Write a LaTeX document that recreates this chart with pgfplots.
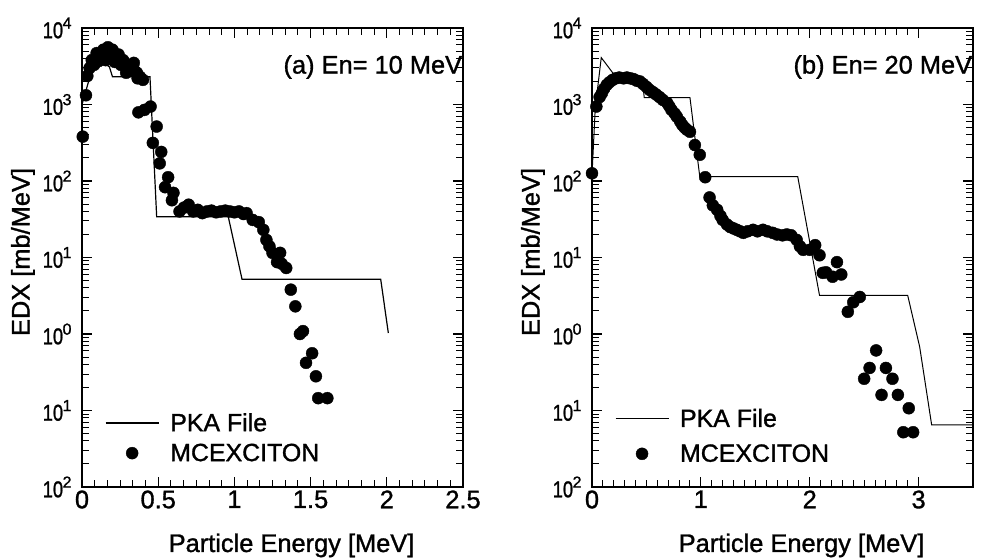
\documentclass[border=0pt]{standalone}
\usepackage{pgfplots}
\pgfplotsset{compat=1.18}
\usepackage{fontspec}
\setmainfont{Liberation Sans}[BoldFont=Liberation Sans, BoldFeatures={FakeBold=1.2}]
\newcommand\tn[1]{\scalebox{0.8}[1]{10}\kern-0.5bp\raisebox{0.42em}{\fontsize{16}{16}\selectfont #1}}
\pgfplotsset{
  mylegimg/.style={legend image code/.code={\draw[mark repeat=2,mark phase=2,##1] plot coordinates {(0bp,0bp)(26.5bp,0bp)(53bp,0bp)};}},
}
\begin{document}
\bfseries
\begin{tikzpicture}
\path[use as bounding box] (0,0) rectangle (983bp,559bp);
% ---------------- panel (a)
\begin{axis}[
  scale only axis, width=381bp, height=459bp, anchor=south west, at={(82bp,72bp)},
  ymode=log, ymin=1e-2, ymax=1e4,
  ytick={1e-2,1e-1,1,10,100,1000,10000},
  yticklabels={\tn{2},\tn{1},\tn{0},\tn{1},\tn{2},\tn{3},\tn{4}},
  axis line style={line width=1.7bp},
  major tick style={line width=1.2bp, black},
  minor tick style={line width=1bp, black},
  major tick length=10bp, minor tick length=7bp,
  tick align=inside, clip=false,
  xticklabel style={font=\fontsize{25.5}{28}\selectfont\bfseries},
  yticklabel style={font=\fontsize{23}{26}\selectfont\bfseries, xshift=-7bp},
  xlabel={Particle Energy [MeV]}, ylabel={EDX [mb/MeV]},
  xlabel style={font=\fontsize{25.5}{28}\selectfont\bfseries, at={(axis description cs:0.55,-0.1416)}, anchor=base},
  ylabel style={font=\fontsize{25.5}{28}\selectfont\bfseries, at={(axis description cs:-0.155,0.512)}, anchor=center},
  mylegimg,
  legend style={at={(axis description cs:0.06,0.107)}, anchor=west, draw=none, fill=none,
    inner sep=0pt, row sep=7bp, column sep=9bp, font=\fontsize{25}{28}\selectfont\bfseries},
  legend cell align=left,
  xmin=0, xmax=2.5, xtick={0,0.5,1,1.5,2,2.5}, xticklabels={0,0.5,1,1.5,2,2.5},
  minor x tick num=5]
\addplot[black, line width=1.2bp, mark=none] coordinates {
(0,1000)(0.04,1900)(0.1,4100)(0.18,3100)(0.2,2300)(0.446,2300)(0.49,34)(0.96,34)(1.05,5.2)(1.96,5.2)(2.01,1.03)};
\addlegendentry{PKA File}
\addplot[black, only marks, mark=*, mark size=6bp, mark options={fill=black}] coordinates {
(0.005,380)(0.026,1320)(0.035,2360)(0.05,3000)(0.064,3800)(0.08,3300)(0.096,4700)(0.11,3700)
(0.12,4300)(0.14,5200)(0.155,3800)(0.17,5600)(0.185,4200)(0.2,5200)(0.215,3600)(0.24,4500)
(0.255,3300)(0.27,3800)(0.29,2600)(0.30,3100)(0.32,3000)(0.34,3500)(0.35,2700)(0.36,2600)
(0.365,2200)(0.38,2300)(0.40,2100)(0.37,790)(0.41,850)(0.45,940)(0.465,315)(0.49,515)
(0.51,170)(0.52,240)(0.545,83)(0.565,112)(0.59,56)(0.60,70)(0.64,40)(0.67,45)(0.70,49)
(0.73,40)(0.76,42)(0.79,38)(0.82,40)(0.85,41)(0.88,39)(0.91,40)(0.94,41)(0.97,40)(1.00,39)
(1.03,40)(1.06,37)(1.08,38)(1.12,31)(1.16,29)(1.19,23)(1.21,17)(1.23,14)(1.25,11.5)
(1.28,8.7)(1.30,11.5)(1.31,8.3)(1.34,7.3)(1.37,3.8)(1.40,2.3)(1.43,1.0)(1.45,1.09)
(1.47,0.42)(1.51,0.56)(1.535,0.28)(1.55,0.145)(1.61,0.145)};
\addlegendentry{MCEXCITON}
\node[anchor=east, font=\fontsize{25.5}{28}\selectfont\bfseries] at (rel axis cs:1.007,0.915) {(a) En= 10 MeV};
\end{axis}
% ---------------- panel (b)
\begin{axis}[
  scale only axis, width=381bp, height=459bp, anchor=south west, at={(592bp,72bp)},
  ymode=log, ymin=1e-2, ymax=1e4,
  ytick={1e-2,1e-1,1,10,100,1000,10000},
  yticklabels={\tn{2},\tn{1},\tn{0},\tn{1},\tn{2},\tn{3},\tn{4}},
  axis line style={line width=1.7bp},
  major tick style={line width=1.2bp, black},
  minor tick style={line width=1bp, black},
  major tick length=10bp, minor tick length=7bp,
  tick align=inside, clip=false,
  xticklabel style={font=\fontsize{25.5}{28}\selectfont\bfseries},
  yticklabel style={font=\fontsize{23}{26}\selectfont\bfseries, xshift=-7bp},
  xlabel={Particle Energy [MeV]}, ylabel={EDX [mb/MeV]},
  xlabel style={font=\fontsize{25.5}{28}\selectfont\bfseries, at={(axis description cs:0.55,-0.1416)}, anchor=base},
  ylabel style={font=\fontsize{25.5}{28}\selectfont\bfseries, at={(axis description cs:-0.155,0.512)}, anchor=center},
  mylegimg,
  legend style={at={(axis description cs:0.06,0.111)}, anchor=west, draw=none, fill=none,
    inner sep=0pt, row sep=12bp, column sep=9bp, font=\fontsize{25}{28}\selectfont\bfseries},
  legend cell align=left,
  xmin=0, xmax=3.5, xtick={0,1,2,3}, xticklabels={0,1,2,3},
  minor x tick num=9]
\addplot[black, line width=1bp, mark=none] coordinates {
(0,120)(0.03,900)(0.085,4100)(0.19,2600)(0.22,2200)(0.46,2200)(0.48,1230)(0.90,1230)(0.99,114)
(1.89,114)(2.09,3.2)(2.90,3.2)(3.01,0.68)(3.12,0.065)(3.5,0.065)};
\addlegendentry{PKA File}
\addplot[black, only marks, mark=*, mark size=6bp, mark options={fill=black}] coordinates {
(0.00,126)(0.04,940)(0.07,1250)(0.09,1400)(0.11,1600)(0.135,1800)(0.16,1950)(0.19,2100)
(0.22,2200)(0.25,2250)(0.29,2200)(0.32,2250)(0.35,2200)(0.38,2150)(0.41,2050)(0.44,2000)
(0.47,1850)(0.50,1700)(0.53,1550)(0.56,1450)(0.59,1350)(0.62,1250)(0.65,1150)(0.69,1050)
(0.71,950)(0.73,850)(0.76,760)(0.78,690)(0.81,600)(0.83,540)(0.85,500)(0.87,470)(0.90,440)
(0.945,295)(0.99,220)(1.04,112)(1.08,61)(1.11,48)(1.15,42)(1.18,35)(1.20,31)(1.24,27)
(1.27,25)(1.30,24)(1.33,23)(1.36,22)(1.39,21)(1.43,22)(1.48,23)(1.52,22)(1.57,23)(1.61,22)
(1.66,21)(1.70,20)(1.75,19.5)(1.79,20)(1.83,19.5)(1.88,17)(1.91,14)(1.94,12.6)(2.00,12.6)
(2.05,14.5)(2.09,10.7)(2.12,6.3)(2.15,6.4)(2.21,5.6)(2.25,8.7)(2.29,6.0)(2.35,1.95)(2.40,2.6)
(2.46,3.05)(2.50,0.26)(2.55,0.36)(2.61,0.61)(2.66,0.16)(2.70,0.36)(2.76,0.26)(2.81,0.16)
(2.86,0.052)(2.91,0.107)(2.95,0.052)};
\addlegendentry{MCEXCITON}
\node[anchor=east, font=\fontsize{25.5}{28}\selectfont\bfseries] at (rel axis cs:1.007,0.915) {(b) En= 20 MeV};
\end{axis}
\end{tikzpicture}
\end{document}
